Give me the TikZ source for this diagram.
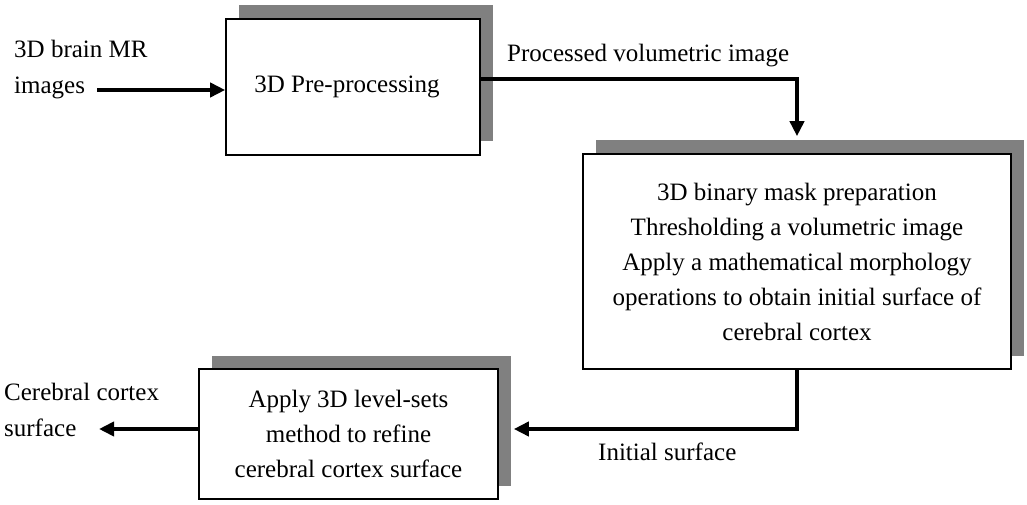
\documentclass[tikz,border=0pt]{standalone}
\usepackage{fontspec}
\setmainfont{Liberation Serif}
\usetikzlibrary{arrows.meta,shadows}

\begin{document}
\begin{tikzpicture}[x=1pt,y=-1pt]
\tikzstyle{stage}=[rectangle,draw=black,line width=1.6pt,fill=white,align=center,inner sep=0pt,font=\fontsize{25}{35}\selectfont,drop shadow={shadow xshift=12.5pt,shadow yshift=13.5pt,fill=gray,opacity=1}]
\tikzstyle{note}=[inner sep=0pt,align=left,font=\fontsize{25}{36}\selectfont]
\tikzstyle{flow}=[line width=4.5pt,-{Triangle[length=15pt,width=14pt]}]

\useasboundingbox (0,0) rectangle (1027,505);

\begin{scope}
    % Stages
    \node [stage,minimum width=254pt,minimum height=136pt](pre_box) at (353,87) {3D Pre-processing\hspace*{12pt}};
    \node [stage,minimum width=428pt,minimum height=215pt](mask_box) at (797,261.5) {3D binary mask preparation\\Thresholding a volumetric image\\Apply a mathematical morphology\\operations to obtain initial surface of\\cerebral cortex};
    \node [stage,minimum width=299pt,minimum height=130pt](ls_box) at (348.5,434) {Apply 3D level-sets\\method to refine\\cerebral cortex surface};

    % Labels
    \node [note,anchor=west](mr_in) at (14,70) {3D brain MR\\images};
    \node [note,anchor=base west](vol_lbl) at (507,62) {Processed volumetric image};
    \node [note,anchor=west](surf_lbl) at (598,452) {Initial surface};
    \node [note,anchor=west](cortex_out) at (4,410) {Cerebral cortex\\surface};
    \coordinate (mr_end) at (97,90);
    \coordinate (cortex_end) at (99,429);

    % Flow
    \draw [flow] (mr_end) -- (mr_end -| pre_box.west);
    \draw [flow] ([yshift=8pt]pre_box.east) -| ([yshift=17pt]mask_box.north);
    \draw [flow] (mask_box.south) |- ([xshift=15pt,yshift=5pt]ls_box.east);
    \draw [flow] ([yshift=5pt]ls_box.west) -- (cortex_end);
\end{scope}

\end{tikzpicture}
\end{document}
